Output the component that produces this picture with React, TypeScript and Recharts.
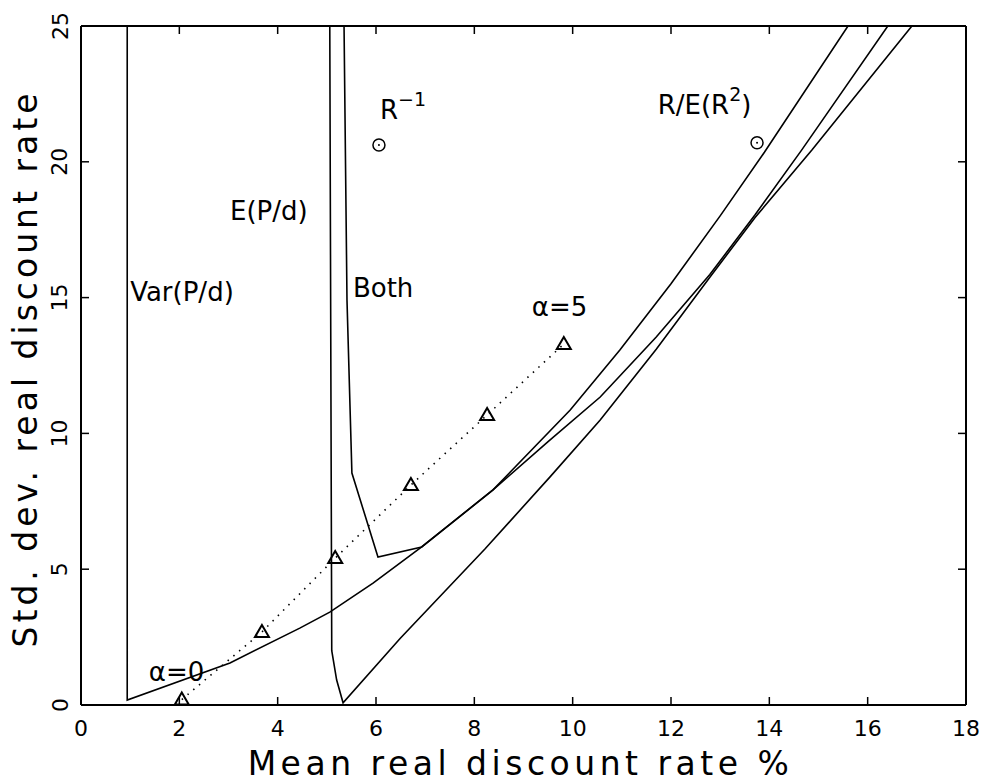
import {
  ComposedChart,
  Line,
  Scatter,
  XAxis,
  YAxis,
  ReferenceDot,
  Label,
} from "recharts";

const FONT = "DejaVu Sans, sans-serif";

const xTicks = [0, 2, 4, 6, 8, 10, 12, 14, 16, 18];
const yTicks = [0, 5, 10, 15, 20, 25];

// bound from the variance of P/d only
const varBound = [
  { x: 0.94, y: 25 },
  { x: 0.94, y: 0.18 },
  { x: 3.03, y: 1.55 },
  { x: 4.45, y: 2.83 },
  { x: 5.06, y: 3.42 },
  { x: 5.94, y: 4.49 },
  { x: 6.93, y: 5.82 },
  { x: 8.38, y: 7.92 },
  { x: 9.5, y: 9.7 },
  { x: 10.56, y: 11.34 },
  { x: 11.7, y: 13.55 },
  { x: 12.79, y: 15.85 },
  { x: 13.71, y: 18.05 },
  { x: 14.66, y: 20.44 },
  { x: 16.41, y: 25 },
];

// bound from the mean of P/d only
const meanBound = [
  { x: 5.06, y: 25 },
  { x: 5.1, y: 2.0 },
  { x: 5.2, y: 0.92 },
  { x: 5.33, y: 0.08 },
  { x: 6.49, y: 2.45 },
  { x: 8.22, y: 5.75 },
  { x: 9.54, y: 8.4 },
  { x: 10.56, y: 10.49 },
  { x: 11.7, y: 13.1 },
  { x: 12.79, y: 15.75 },
  { x: 13.71, y: 17.95 },
  { x: 14.87, y: 20.44 },
  { x: 16.9, y: 25 },
];

// both moments
const bothBound = [
  { x: 5.35, y: 25 },
  { x: 5.41, y: 14.9 },
  { x: 5.51, y: 8.54 },
  { x: 6.04, y: 5.45 },
  { x: 6.93, y: 5.82 },
  { x: 8.38, y: 7.92 },
  { x: 9.95, y: 10.86 },
  { x: 10.96, y: 13.07 },
  { x: 12.0, y: 15.51 },
  { x: 13.0, y: 18.01 },
  { x: 13.9, y: 20.35 },
  { x: 15.6, y: 25 },
];

// alpha = 0 .. 5
const alphaPoints = [
  { x: 2.05, y: 0.2 },
  { x: 3.68, y: 2.69 },
  { x: 5.17, y: 5.41 },
  { x: 6.71, y: 8.1 },
  { x: 8.26, y: 10.68 },
  { x: 9.82, y: 13.29 },
];

const inversePoint = [{ x: 6.06, y: 20.62 }];
const ratioPoint = [{ x: 13.75, y: 20.7 }];

// corners of the frame, so that the tick-only axes get a series of their own
const frameCorners = [
  { x: 0, y: 0 },
  { x: 18, y: 25 },
];

type Note = { x: number; y: number; text: string; sup?: string; tail?: string };

const notes: Note[] = [
  { x: 1.0, y: 15.2, text: "Var(P/d)" },
  { x: 3.03, y: 18.2, text: "E(P/d)" },
  { x: 5.53, y: 15.35, text: "Both" },
  { x: 6.08, y: 21.9, text: "R", sup: "\u22121" },
  { x: 11.73, y: 22.1, text: "R/E(R", sup: "2", tail: ")" },
  { x: 9.17, y: 14.65, text: "\u03b1=5" },
  { x: 1.38, y: 1.2, text: "\u03b1=0" },
];

function BottomTick(props: any) {
  const { x, y, payload } = props;
  return (
    <text
      x={x}
      y={y}
      textAnchor="middle"
      dominantBaseline="central"
      fontSize={22}
      fontFamily={FONT}
      fill="#000"
    >
      {payload.value}
    </text>
  );
}

function LeftTick(props: any) {
  const { x, y, payload } = props;
  return (
    <text
      x={x}
      y={y}
      transform={`rotate(-90 ${x} ${y})`}
      textAnchor="middle"
      dominantBaseline="central"
      fontSize={22}
      fontFamily={FONT}
      fill="#000"
    >
      {payload.value}
    </text>
  );
}

function Triangle(props: any) {
  const { cx, cy } = props;
  return (
    <path
      d={`M${cx},${cy - 7} L${cx + 7},${cy + 5} L${cx - 7},${cy + 5} Z`}
      fill="none"
      stroke="#000"
      strokeWidth={2}
    />
  );
}

function Ring(props: any) {
  const { cx, cy } = props;
  return (
    <g>
      <circle cx={cx} cy={cy} r={6} fill="none" stroke="#000" strokeWidth={1.5} />
      <circle cx={cx} cy={cy} r={1} fill="#000" />
    </g>
  );
}

function noteContent(n: Note) {
  return (props: any) => {
    const vb = props.viewBox || {};
    return (
      <text
        x={vb.x}
        y={vb.y}
        dominantBaseline="central"
        fontSize={26}
        fontFamily={FONT}
        fill="#000"
      >
        {n.text}
        {n.sup && (
          <tspan dy={-11} fontSize={19}>
            {n.sup}
          </tspan>
        )}
        {n.tail && <tspan dy={11}>{n.tail}</tspan>}
      </text>
    );
  };
}

const axisLine = { stroke: "#000", strokeWidth: 2 };
const tickLine = { stroke: "#000", strokeWidth: 1.5 };
const noLabel = () => "";

export default function App() {
  return (
    <div style={{ position: "absolute", left: 0, top: 0, background: "#fff" }}>
      <ComposedChart
        width={986}
        height={784}
        margin={{ top: 26, right: 20, bottom: 0, left: 0 }}
      >
        <XAxis
          xAxisId="b"
          type="number"
          dataKey="x"
          domain={[0, 18]}
          ticks={xTicks}
          allowDataOverflow
          height={79}
          tickSize={0}
          tickMargin={23}
          tickLine={false}
          axisLine={axisLine}
          tick={<BottomTick />}
          interval={0}
        >
          <Label
            content={(p: any) => {
              const vb = p.viewBox || {};
              return (
                <text
                  x={vb.x + vb.width / 2 - 3}
                  y={vb.y + 70}
                  textAnchor="middle"
                  fontSize={33}
                  letterSpacing={4.5}
                  fontFamily={FONT}
                  fill="#000"
                >
                  Mean real discount rate %
                </text>
              );
            }}
          />
        </XAxis>
        {/* inward tick marks on all four sides */}
        <XAxis
          xAxisId="bm"
          orientation="bottom"
          mirror
          type="number"
          dataKey="x"
          domain={[0, 18]}
          ticks={xTicks}
          allowDataOverflow
          height={1}
          tickSize={8}
          tickLine={tickLine}
          axisLine={false}
          tickFormatter={noLabel}
          interval={0}
        />
        <XAxis
          xAxisId="t"
          orientation="top"
          mirror
          type="number"
          dataKey="x"
          domain={[0, 18]}
          ticks={xTicks}
          allowDataOverflow
          height={1}
          tickSize={8}
          tickLine={tickLine}
          axisLine={axisLine}
          tickFormatter={noLabel}
          interval={0}
        />
        <YAxis
          yAxisId="l"
          type="number"
          domain={[0, 25]}
          ticks={yTicks}
          allowDataOverflow
          width={81}
          tickSize={0}
          tickMargin={21}
          tickLine={false}
          axisLine={axisLine}
          tick={<LeftTick />}
          interval={0}
        >
          <Label
            content={(p: any) => {
              const vb = p.viewBox || {};
              const cx = vb.x + 25;
              const cy = vb.y + vb.height / 2 + 3;
              return (
                <text
                  x={cx}
                  y={cy}
                  transform={`rotate(-90 ${cx} ${cy})`}
                  textAnchor="middle"
                  dominantBaseline="central"
                  fontSize={33}
                  letterSpacing={4}
                  fontFamily={FONT}
                  fill="#000"
                >
                  Std. dev. real discount rate
                </text>
              );
            }}
          />
        </YAxis>
        <YAxis
          yAxisId="lm"
          orientation="left"
          mirror
          type="number"
          domain={[0, 25]}
          ticks={yTicks}
          allowDataOverflow
          width={1}
          tickSize={8}
          tickLine={tickLine}
          axisLine={false}
          tickFormatter={noLabel}
          interval={0}
        />
        <YAxis
          yAxisId="r"
          orientation="right"
          mirror
          type="number"
          domain={[0, 25]}
          ticks={yTicks}
          allowDataOverflow
          width={1}
          tickSize={8}
          tickLine={tickLine}
          axisLine={axisLine}
          tickFormatter={noLabel}
          interval={0}
        />

        <Line
          xAxisId="bm"
          yAxisId="lm"
          data={frameCorners}
          dataKey="y"
          stroke="none"
          dot={false}
          legendType="none"
          isAnimationActive={false}
        />
        <Line
          xAxisId="t"
          yAxisId="r"
          data={frameCorners}
          dataKey="y"
          stroke="none"
          dot={false}
          legendType="none"
          isAnimationActive={false}
        />

        <Line
          xAxisId="b"
          yAxisId="l"
          data={varBound}
          dataKey="y"
          type="linear"
          stroke="#000"
          strokeWidth={1.6}
          dot={false}
          isAnimationActive={false}
        />
        <Line
          xAxisId="b"
          yAxisId="l"
          data={meanBound}
          dataKey="y"
          type="linear"
          stroke="#000"
          strokeWidth={1.6}
          dot={false}
          isAnimationActive={false}
        />
        <Line
          xAxisId="b"
          yAxisId="l"
          data={bothBound}
          dataKey="y"
          type="linear"
          stroke="#000"
          strokeWidth={1.6}
          dot={false}
          isAnimationActive={false}
        />
        <Line
          xAxisId="b"
          yAxisId="l"
          data={alphaPoints}
          dataKey="y"
          type="linear"
          stroke="#000"
          strokeWidth={1.6}
          strokeDasharray="1.5 6"
          dot={false}
          isAnimationActive={false}
        />
        <Scatter
          xAxisId="b"
          yAxisId="l"
          data={alphaPoints}
          dataKey="y"
          shape={<Triangle />}
          isAnimationActive={false}
        />
        <Scatter
          xAxisId="b"
          yAxisId="l"
          data={inversePoint}
          dataKey="y"
          shape={<Ring />}
          isAnimationActive={false}
        />
        <Scatter
          xAxisId="b"
          yAxisId="l"
          data={ratioPoint}
          dataKey="y"
          shape={<Ring />}
          isAnimationActive={false}
        />
        {notes.map((n) => (
          <ReferenceDot
            key={n.text + n.x}
            xAxisId="b"
            yAxisId="l"
            x={n.x}
            y={n.y}
            r={0}
            fill="none"
            stroke="none"
            label={{ content: noteContent(n) }}
          />
        ))}
      </ComposedChart>
    </div>
  );
}
